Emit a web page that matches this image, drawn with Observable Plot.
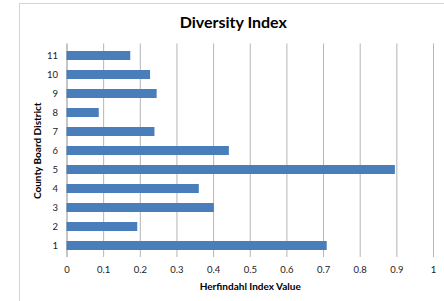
<!DOCTYPE html>
<html>
<head>
<meta charset="utf-8">
<script src="https://cdn.jsdelivr.net/npm/d3@7"></script>
<script src="https://cdn.jsdelivr.net/npm/@observablehq/plot@0.6"></script>
<style>
  html, body { margin: 0; padding: 0; background: #fff; }
  #wrap { position: relative; width: 444px; height: 301px; overflow: hidden; background: #fff; }
  #frame { position: absolute; left: 19px; top: 3px; width: 460px; height: 320px; border: 1px solid #d4d4d4; box-sizing: border-box; }
  #chart { position: absolute; left: 0; top: 0; }
</style>
</head>
<body>
<div id="wrap"><div id="frame"></div><div id="chart"></div></div>
<script>
const districts = ["1", "2", "3", "4", "5", "6", "7", "8", "9", "10", "11"];
const values = [0.710, 0.193, 0.402, 0.361, 0.896, 0.443, 0.240, 0.088, 0.246, 0.228, 0.174];
const xTicks = [0, 0.1, 0.2, 0.3, 0.4, 0.5, 0.6, 0.7, 0.8, 0.9, 1];
const xTickLabels = ["0", "0.1", "0.2", "0.3", "0.4", "0.5", "0.6", "0.7", "0.8", "0.9", "1"];
const title = "Diversity Index";
const xLabel = "Herfindahl Index Value";
const yLabel = "County Board District";

const data = districts.map((d, i) => ({district: d, value: values[i]}));

const chart = Plot.plot({
  width: 444,
  height: 301,
  marginLeft: 66.5,
  marginRight: 11,
  marginTop: 43.5,
  marginBottom: 44,
  style: {fontFamily: "Lato, sans-serif", fontSize: "9.5px", color: "#222", background: "transparent", overflow: "visible"},
  x: {domain: [0, 1]},
  y: {domain: districts.slice().reverse(), paddingInner: 0.54, paddingOuter: 0.27},
  marks: [
    Plot.gridX(xTicks.filter(d => d > 0), {stroke: "#b5b5b5", strokeOpacity: 1, strokeWidth: 1}),
    Plot.ruleX([0], {stroke: "#8c8c8c", strokeWidth: 1}),
    Plot.barX(data, {x: "value", y: "district", fill: "#4a7ebb"}),
    Plot.axisX({ticks: xTicks, tickSize: 0, tickPadding: 9, tickFormat: d => xTickLabels[xTicks.indexOf(d)] ?? "", label: null}),
    Plot.axisY({tickSize: 0, tickPadding: 9, label: null}),
    Plot.text([title], {text: d => d, frameAnchor: "top", textAnchor: "middle", lineAnchor: "middle", dx: -17, dy: -21.5, fontSize: 16, fontWeight: "bold", fill: "#000"}),
    Plot.text([xLabel], {text: d => d, frameAnchor: "bottom", textAnchor: "middle", lineAnchor: "middle", dy: 29, fontSize: 10, fontWeight: "bold", fill: "#000"}),
    Plot.text([yLabel], {text: d => d, frameAnchor: "left", textAnchor: "middle", lineAnchor: "middle", rotate: -90, dx: -29, fontSize: 10, fontWeight: "bold", fill: "#000"})
  ]
});
document.getElementById("chart").appendChild(chart);
</script>
</body>
</html>
